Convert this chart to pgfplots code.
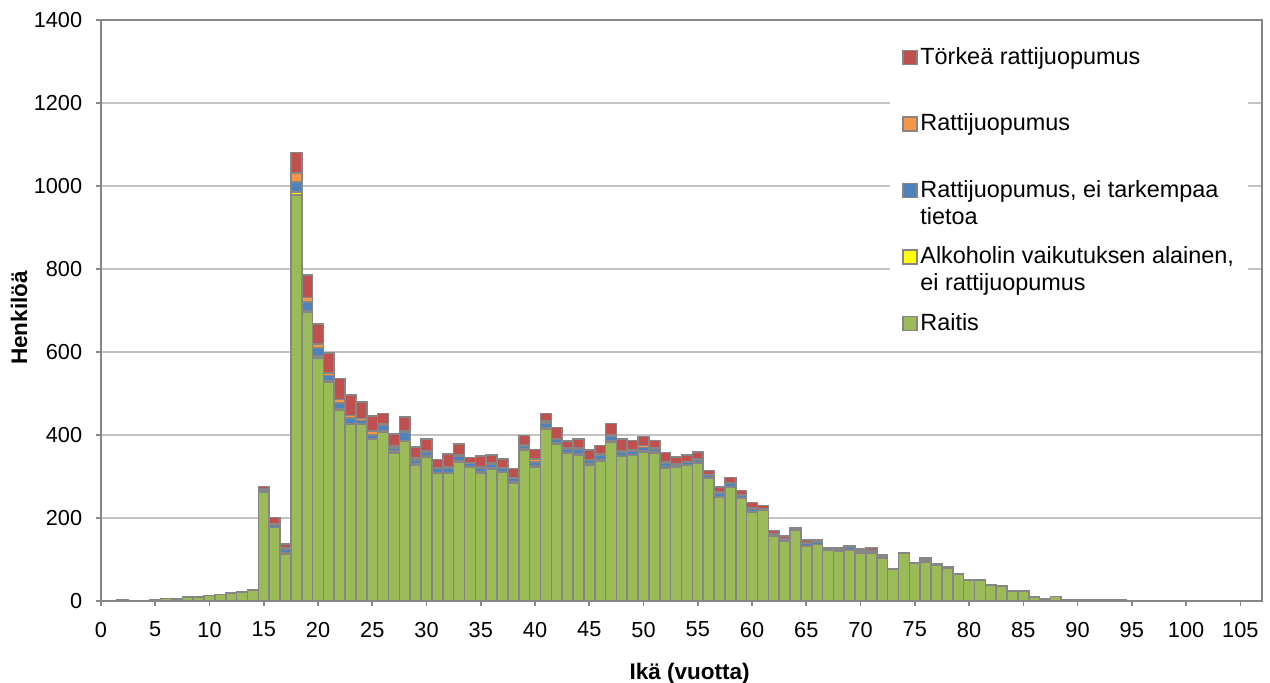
\documentclass[border=0pt]{standalone}
\usepackage{fontspec}
\setmainfont{Liberation Sans}
\usepackage{pgfplots}
\usepackage{pgfplotstable}
\pgfplotsset{compat=1.18}

\definecolor{raitisgreen}{HTML}{9BBB59}
\definecolor{alkyellow}{HTML}{FFFF00}
\definecolor{rttblue}{HTML}{4F81BD}
\definecolor{rattiorange}{HTML}{F79646}
\definecolor{torkeared}{HTML}{C0504D}
\definecolor{bordergray}{RGB}{134,134,134}
\definecolor{gridgray}{RGB}{195,195,195}

% age, raitis, alkoholin vaik., rattij. ei tark., rattij., torkea
\pgfplotstableread{
age raitis alk rtt ratti torkea
0 1 0 0 0 0
1 0 0 0 0 0
2 2 0 0 0 0
3 1 0 0 0 0
4 0 0 0 0 0
5 2 0 0 0 0
6 6 0 0 0 0
7 5 0 0 0 0
8 10 0 0 0 0
9 10 0 0 0 0
10 13 0 0 0 0
11 16 0 0 0 0
12 19 0 0 0 0
13 22 0 0 0 1
14 26 0 1 0 1
15 262 0 6 2 6
16 177 0 6 2 16
17 113 2 10 3 10
18 978 8 23 22 50
19 696 3 22 10 55
20 585 6 18 10 48
21 528 3 12 7 48
22 460 3 14 9 50
23 425 2 14 6 50
24 425 2 8 5 40
25 389 3 8 10 36
26 407 2 14 4 25
27 357 4 8 5 28
28 385 2 20 3 34
29 327 3 10 4 27
30 347 2 10 4 28
31 307 2 10 2 20
32 307 2 12 3 30
33 335 2 12 3 27
34 322 1 8 2 13
35 309 2 9 3 26
36 318 2 9 3 20
37 310 2 8 2 20
38 285 2 9 2 21
39 363 3 8 3 22
40 322 3 10 7 23
41 415 2 12 5 18
42 378 2 9 3 26
43 355 2 9 3 17
44 352 2 12 3 22
45 328 2 9 2 23
46 338 2 12 3 20
47 383 2 12 3 28
48 349 2 8 3 28
49 351 2 8 3 23
50 359 2 9 5 21
51 357 2 7 2 19
52 321 2 9 3 23
53 322 1 5 2 17
54 328 1 5 2 16
55 331 1 8 2 17
56 297 1 5 1 10
57 251 1 8 2 13
58 275 1 8 2 12
59 248 1 5 1 11
60 213 1 8 2 13
61 219 0 3 1 7
62 156 1 5 1 7
63 145 1 3 1 7
64 171 0 3 0 3
65 132 1 6 1 7
66 136 0 5 1 5
67 123 0 3 0 2
68 120 0 4 0 4
69 123 0 6 0 3
70 115 0 5 1 5
71 116 0 5 1 6
72 104 0 4 0 4
73 76 0 1 0 1
74 115 0 0 0 1
75 91 0 0 0 1
76 94 0 4 1 5
77 86 0 2 0 1
78 78 0 2 0 3
79 64 0 0 0 2
80 50 0 0 0 1
81 51 0 0 0 1
82 38 0 0 0 2
83 35 0 1 0 1
84 23 0 0 0 1
85 23 0 0 0 1
86 10 0 0 0 0
87 5 0 0 0 0
88 11 0 0 0 0
89 4 0 0 0 0
90 3 0 0 0 0
91 2 0 0 0 0
92 4 0 0 0 0
93 4 0 0 0 0
94 2 0 0 0 0
95 1 0 0 0 0
96 1 0 0 0 0
97 0 0 0 0 0
98 0 0 0 0 0
99 0 0 0 0 0
100 0 0 0 0 0
101 0 0 0 0 0
102 0 0 0 0 0
103 0 0 0 0 0
104 0 0 0 0 0
105 0 0 0 0 0
106 0 0 0 0 0
107 0 0 0 0 0
}\ikadata

\pgfplotsset{sqlegend/.style={legend image code/.code={\draw[##1] (0bp,0bp) rectangle (7bp,7bp);}}}
% legend rows: extra room above the first baseline gives the even spacing
\newcommand{\legtext}[2][31.75bp]{\raisebox{0pt}[#1][0pt]{\parbox[t]{158bp}{\raggedright #2}}}

\begin{document}
\begin{tikzpicture}
\useasboundingbox (0,0) rectangle (635bp,341.5bp);
\begin{axis}[
    at={(50.5bp,41bp)}, anchor=south west,
    scale only axis, width=580.5bp, height=290.5bp,
    xmin=0, xmax=107, ymin=0, ymax=1400,
    ybar stacked, bar width=1,
    xtick={0,5,...,105}, ytick={0,200,...,1400},
    ymajorgrids, grid style={draw=gridgray, line width=0.6bp},
    axis line style={draw=bordergray, line width=0.8bp},
    tick style={draw=bordergray, line width=0.8bp},
    tick align=outside, tick pos=left, major tick length=2.5bp,
    /pgf/number format/assume math mode=true,
    /pgf/number format/1000 sep={},
    tick label style={font=\fontsize{10.9}{13}\selectfont},
    yticklabel style={xshift=-3.4bp},
    xticklabel style={yshift=-4.5bp},
    xlabel={Ikä (vuotta)}, ylabel={Henkilöä},
    xlabel style={at={(axis description cs:0.507,-0.1343)}, anchor=base, font=\bfseries\fontsize{11.3}{13}\selectfont},
    ylabel style={at={(axis description cs:-0.0637,0.487)}, anchor=base, font=\bfseries\fontsize{11.3}{13}\selectfont},
    reverse legend,
    legend style={at={(axis description cs:0.6796,0.969)}, anchor=north west,
        draw=none, fill=white, inner xsep=6bp, inner ysep=5bp,
        row sep=0bp, column sep=1.2bp, nodes={inner sep=0bp}, cells={anchor=base west},
        font=\fontsize{11.75}{13.5}\selectfont},
]
\addplot[fill=raitisgreen, draw=bordergray, line width=0.8bp, sqlegend] table[x=age, y=raitis]{\ikadata};
\addlegendentry{\legtext{Raitis}}
\addplot[fill=alkyellow, draw=bordergray, line width=0.8bp, sqlegend] table[x=age, y=alk]{\ikadata};
\addlegendentry{\legtext{Alkoholin vaikutuksen alainen,\\ei rattijuopumus}}
\addplot[fill=rttblue, draw=bordergray, line width=0.8bp, sqlegend] table[x=age, y=rtt]{\ikadata};
\addlegendentry{\legtext{Rattijuopumus, ei tarkempaa\\tietoa}}
\addplot[fill=rattiorange, draw=bordergray, line width=0.8bp, sqlegend] table[x=age, y=ratti]{\ikadata};
\addlegendentry{\legtext{Rattijuopumus}}
\addplot[fill=torkeared, draw=bordergray, line width=0.8bp, sqlegend] table[x=age, y=torkea]{\ikadata};
\addlegendentry{\legtext[8bp]{Törkeä rattijuopumus}}
\end{axis}
\end{tikzpicture}
\end{document}
